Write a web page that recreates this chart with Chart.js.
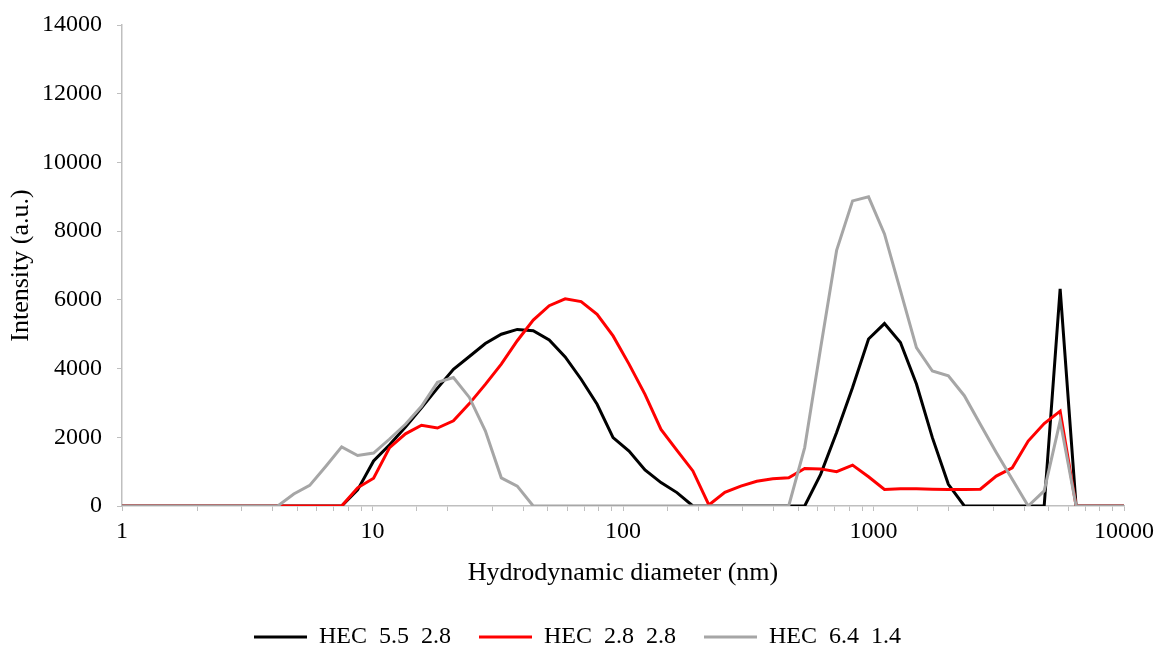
<!DOCTYPE html>
<html lang="en">

<head>
    <meta charset="UTF-8">
    <title>Hydrodynamic diameter distribution</title>
    <script src="https://cdn.jsdelivr.net/npm/chart.js"></script>
    <style>
        body { margin: 0; background: #ffffff; }
    </style>
</head>

<body>
    <canvas id="dlsGrafik" width="1155" height="649"></canvas>

    <script>
        // Size bins (nm)
        var sizes = [0.4, 0.4632, 0.5365, 0.6213, 0.7195, 0.8332, 0.9649, 1.117, 1.294, 1.499,
            1.736, 2.01, 2.328, 2.696, 3.122, 3.615, 4.187, 4.849, 5.615, 6.503,
            7.531, 8.721, 10.1, 11.7, 13.54, 15.69, 18.17, 21.04, 24.36, 28.21,
            32.67, 37.84, 43.82, 50.75, 58.77, 68.06, 78.82, 91.28, 105.7, 122.4,
            141.8, 164.2, 190.1, 220.2, 255.0, 295.3, 342.0, 396.1, 458.7, 531.2,
            615.1, 712.4, 825.0, 955.4, 1106, 1281, 1484, 1718, 1990, 2305,
            2669, 3091, 3580, 4145, 4801, 5560, 6439, 7456, 8635, 10000];

        // Intensity of each sample
        var hec55 = [0, 0, 0, 0, 0, 0, 0, 0, 0, 0,
            0, 0, 0, 0, 0, 0, 0, 0, 0, 0,
            0, 470, 1310, 1780, 2300, 2860, 3430, 3980, 4350, 4730,
            5000, 5140, 5100, 4830, 4340, 3690, 2960, 1990, 1600, 1050,
            680, 390, 0, 0, 0, 0, 0, 0, 0, 0,
            920, 2140, 3450, 4860, 5310, 4760, 3550, 1990, 630, 0,
            0, 0, 0, 0, 0, 6320, 0, 0, 0, 0];
        var hec28 = [0, 0, 0, 0, 0, 0, 0, 0, 0, 0,
            0, 0, 0, 0, 0, 0, 0, 0, 0, 0,
            0, 530, 810, 1700, 2100, 2350, 2270, 2480, 2980, 3540,
            4130, 4810, 5410, 5830, 6030, 5950, 5580, 4950, 4130, 3250,
            2230, 1620, 1020, 30, 400, 580, 720, 790, 820, 1090,
            1080, 1000, 1190, 850, 480, 500, 500, 490, 480, 480,
            490, 870, 1110, 1890, 2400, 2760, 0, 0, 0, 0];
        var hec64 = [0, 0, 0, 0, 0, 0, 0, 0, 0, 0,
            0, 0, 0, 0, 0, 0, 0, 350, 600, 1150,
            1720, 1470, 1540, 1950, 2380, 2900, 3600, 3740, 3160, 2190,
            820, 580, 0, 0, 0, 0, 0, 0, 0, 0,
            0, 0, 0, 0, 0, 0, 0, 0, 0, 1700,
            4600, 7440, 8880, 9000, 7920, 6270, 4610, 3930, 3790, 3210,
            2380, 1560, 780, 0, 440, 2480, 0, 0, 0, 0];

        var seriesNames = ['HEC  5.5  2.8', 'HEC  2.8  2.8', 'HEC  6.4  1.4'];
        var seriesColors = ['#000000', '#ff0000', '#a6a6a6'];
        var yTicks = [0, 2000, 4000, 6000, 8000, 10000, 12000, 14000];

        function toPoints(values) {
            var pts = [];
            for (var i = 0; i < sizes.length; i++) {
                pts.push({ x: sizes[i], y: values[i] });
            }
            return pts;
        }

        Chart.defaults.font.family = "'Liberation Serif', 'Times New Roman', serif";
        Chart.defaults.font.size = 24;
        Chart.defaults.color = '#000000';

        var axisColor = '#bfbfbf';
        var allSeries = [hec55, hec28, hec64];
        var datasets = [];
        for (var s = 0; s < allSeries.length; s++) {
            datasets.push({
                label: seriesNames[s],
                data: toPoints(allSeries[s]),
                borderColor: seriesColors[s],
                backgroundColor: seriesColors[s],
                borderWidth: 3,
                pointRadius: 0,
                tension: 0,
                order: 3 - s // grey on top, like the original
            });
        }

        var ctx = document.getElementById('dlsGrafik').getContext('2d');
        var dlsGrafik = new Chart(ctx, {
            type: 'line',
            data: { datasets: datasets },
            options: {
                responsive: false,
                animation: false,
                layout: {
                    padding: { left: 0, right: 0, top: 25, bottom: -10 }
                },
                plugins: {
                    tooltip: { enabled: false },
                    legend: {
                        position: 'bottom',
                        labels: {
                            usePointStyle: true,
                            pointStyle: 'line',
                            pointStyleWidth: 53,
                            padding: 28,
                            font: { size: 24 },
                            sort: function (a, b) { return a.datasetIndex - b.datasetIndex; }
                        }
                    }
                },
                scales: {
                    x: {
                        type: 'logarithmic',
                        min: 1,
                        max: 10000,
                        border: { color: axisColor, width: 1.5 },
                        grid: { drawOnChartArea: false, drawTicks: true, tickLength: 5, color: axisColor },
                        afterFit: function (axis) {
                            // plot area from x=122 to x=1124
                            axis.paddingLeft = 0;
                            axis.paddingRight = 31;
                        },
                        ticks: {
                            padding: 6,
                            maxRotation: 0,
                            autoSkip: false,
                            callback: function (value) {
                                var p = Math.log10(value);
                                return Math.abs(p - Math.round(p)) < 1e-9 ? String(value) : '';
                            }
                        },
                        title: {
                            display: true,
                            text: 'Hydrodynamic diameter (nm)',
                            font: { size: 26 },
                            padding: { top: 6, bottom: 8 }
                        }
                    },
                    y: {
                        min: 0,
                        max: 14000,
                        border: { color: axisColor, width: 1.5 },
                        grid: { drawOnChartArea: false, drawTicks: true, tickLength: 5, color: axisColor },
                        afterBuildTicks: function (axis) {
                            axis.ticks = yTicks.map(function (v) { return { value: v }; });
                        },
                        afterFit: function (axis) {
                            axis.width = 122;
                            axis.paddingTop = 0;
                            axis.paddingBottom = 0;
                        },
                        ticks: {
                            padding: 15,
                            callback: function (value) { return String(value); }
                        },
                        title: {
                            display: true,
                            text: 'Intensity (a.u.)',
                            font: { size: 26 },
                            padding: { top: 6, bottom: 5 }
                        }
                    }
                }
            }
        });
    </script>
</body>

</html>
